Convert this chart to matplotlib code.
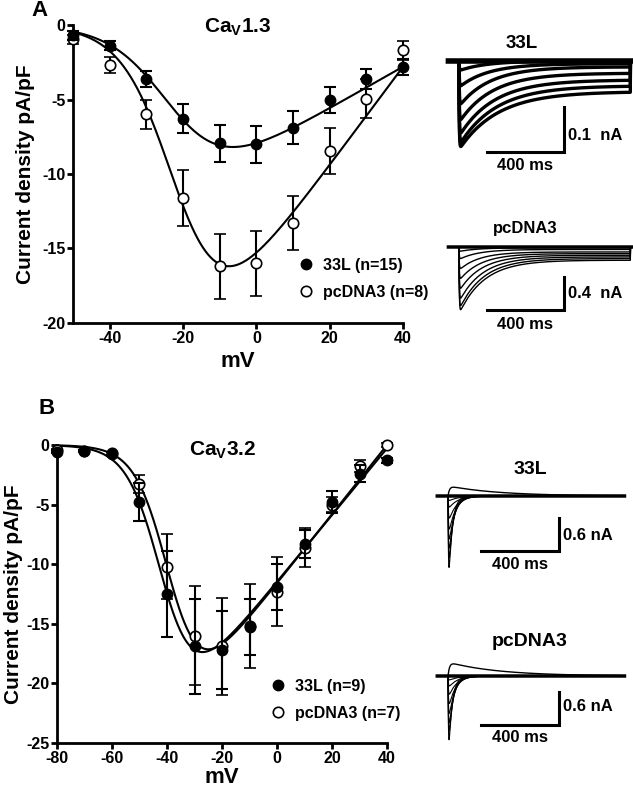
import numpy as np
import matplotlib
matplotlib.use('Agg')
import matplotlib.pyplot as plt

plt.rcParams['font.family'] = ['Liberation Sans', 'DejaVu Sans']
plt.rcParams['font.weight'] = 'bold'
plt.rcParams['axes.labelweight'] = 'bold'
plt.rcParams['axes.unicode_minus'] = False
plt.rcParams['mathtext.fontset'] = 'custom'
plt.rcParams['mathtext.rm'] = 'Liberation Sans:bold'
plt.rcParams['mathtext.it'] = 'Liberation Sans:bold'
plt.rcParams['mathtext.bf'] = 'Liberation Sans:bold'

W, H = 633, 790

# ---------------- Panel A : CaV1.3 I-V ----------------
a_voltage = [-50, -40, -30, -20, -10, 0, 10, 20, 30, 40]
a_33l_mean = [-0.7, -1.4, -3.6, -6.3, -7.95, -8.0, -6.9, -5.05, -3.6, -2.8]
a_33l_sem = [0.3, 0.3, 0.53, 0.97, 1.25, 1.25, 1.1, 0.87, 0.67, 0.53]
a_pc_mean = [-0.95, -2.7, -6.0, -11.6, -16.2, -16.0, -13.3, -8.45, -4.95, -1.7]
a_pc_sem = [0.3, 0.55, 1.0, 1.9, 2.2, 2.2, 1.8, 1.55, 1.3, 0.62]
a_labels = ['33L (n=15)', 'pcDNA3 (n=8)']
# Boltzmann-Ohm fit parameters [33L, pcDNA3]
a_fit_gmax = [0.14, 0.33]
a_fit_vhalf = [-22.2, -21.0]
a_fit_slope = [7.9, 6.9]
a_fit_erev = [60.0, 48.5]
a_xticks = [-40, -20, 0, 20, 40]
a_yticks = [0, -5, -10, -15, -20]

# ---------------- Panel B : CaV3.2 I-V ----------------
b_voltage = [-80, -70, -60, -50, -40, -30, -20, -10, 0, 10, 20, 30, 40]
b_33l_mean = [-0.55, -0.5, -0.75, -4.8, -12.5, -16.9, -17.2, -15.3, -11.9, -8.3, -4.8, -2.4, -1.3]
b_33l_sem = [0.1, 0.1, 0.15, 1.6, 3.6, 4.0, 3.3, 2.35, 1.95, 1.2, 0.9, 0.7, 0.2]
b_pc_mean = [-0.4, -0.5, -0.7, -3.3, -10.2, -16.0, -16.9, -15.2, -12.3, -8.6, -5.0, -1.8, 0.0]
b_pc_sem = [0.1, 0.1, 0.15, 0.75, 2.7, 4.15, 4.1, 3.5, 2.9, 1.6, 0.6, 0.5, 0.2]
b_labels = ['33L (n=9)', 'pcDNA3 (n=7)']
b_fit_gmax = [0.28, 0.29]
b_fit_vhalf = [-41.2, -38.6]
b_fit_slope = [6.06, 5.9]
b_fit_erev = [41.0, 40.0]
b_xticks = [-80, -60, -40, -20, 0, 20, 40]
b_yticks = [0, -5, -10, -15, -20, -25]

# ---------------- Current traces (nA, ms) ----------------
pulse_ms = 890
a33_peak = [0.19, 0.18, 0.16, 0.13, 0.095, 0.055, 0.02]
a33_end = [0.068, 0.055, 0.042, 0.027, 0.013, 0.006, 0.0]
a33_tau = [200, 190, 180, 170, 160, 150, 140]
apc_peak = [0.76, 0.71, 0.62, 0.50, 0.38, 0.26, 0.14, 0.05]
apc_end = [0.16, 0.14, 0.12, 0.10, 0.08, 0.06, 0.03, 0.01]
apc_tau = [130, 125, 120, 115, 110, 105, 100, 95]
b33_peak = [1.30, 1.12, 0.95, 0.78, 0.60, 0.40, 0.20, 0.08]
b33_tau = [18, 22, 26, 30, 35, 40, 45, 50]
b33_out = 0.16
bpc_peak = [1.16, 1.00, 0.85, 0.68, 0.50, 0.33, 0.18, 0.07]
bpc_tau = [18, 22, 26, 30, 35, 40, 45, 50]
bpc_out = 0.22


def boltz(v, g, vh, k, erev):
    return g * (v - erev) / (1.0 + np.exp((vh - v) / k))


def px(x, y):
    return x / W, 1 - y / H


fig = plt.figure(figsize=(W / 100, H / 100), dpi=100)


def iv_axes(rect_px, volt, m1, s1, m2, s2, fits, xlim, ylim, xticks, yticks,
            title, title_xy, labels, leg_xy, ylab_x, xlab_y):
    l, t, r, b = rect_px
    ax = fig.add_axes([l / W, 1 - b / H, (r - l) / W, (b - t) / H])
    ax.set_xlim(*xlim)
    ax.set_ylim(*ylim)
    vv = np.linspace(xlim[0], xlim[1], 400)
    for g, vh, k, er in zip(*fits):
        ax.plot(vv, boltz(vv, g, vh, k, er), color='black', lw=1.5, zorder=2,
                clip_on=False)
    e2 = ax.errorbar(volt, m2, yerr=s2, fmt='o', ms=7.5, mfc='white', mec='black',
                     mew=1.2, ecolor='black', elinewidth=1.5, capsize=4.5,
                     capthick=1.5, zorder=3, clip_on=False)
    e1 = ax.errorbar(volt, m1, yerr=s1, fmt='o', ms=7.5, mfc='black', mec='black',
                     ecolor='black', elinewidth=1.5, capsize=4.5, capthick=1.5,
                     zorder=4, clip_on=False)
    for a in (e1, e2):
        for c in a[1] + a[2]:
            c.set_clip_on(False)
    for s in ('top', 'right'):
        ax.spines[s].set_visible(False)
    for s in ('left', 'bottom'):
        ax.spines[s].set_linewidth(2)
    ax.set_xticks(xticks)
    ax.set_yticks(yticks)
    ax.tick_params(width=2, length=4, labelsize=11.5, pad=1.5)
    for lab in ax.get_xticklabels() + ax.get_yticklabels():
        lab.set_fontweight('bold')
    ax.set_ylabel('Current density pA/pF', fontsize=15)
    ax.yaxis.set_label_coords(ylab_x, 0.5)
    ax.set_xlabel('mV', fontsize=16)
    ax.xaxis.set_label_coords(0.5, xlab_y)
    fig.text(*px(*title_xy), title, fontsize=15, ha='center', va='center')
    leg = ax.legend([e1[0], e2[0]], labels, loc='upper left',
                    bbox_to_anchor=px(*leg_xy), bbox_transform=fig.transFigure,
                    frameon=False, fontsize=11.5, handlelength=1.0,
                    handletextpad=0.55, labelspacing=0.75, borderpad=0,
                    borderaxespad=0, numpoints=1)
    for tx in leg.get_texts():
        tx.set_fontweight('bold')
    return ax


iv_axes((73, 25, 403, 323), a_voltage, a_33l_mean, a_33l_sem, a_pc_mean, a_pc_sem,
        (a_fit_gmax, a_fit_vhalf, a_fit_slope, a_fit_erev), (-50, 40), (-20, 0),
        a_xticks, a_yticks, r'Ca$_\mathregular{V}$1.3', (238, 27), a_labels,
        (298, 258), -0.115, -0.095)

iv_axes((57, 445, 387, 743), b_voltage, b_33l_mean, b_33l_sem, b_pc_mean, b_pc_sem,
        (b_fit_gmax, b_fit_vhalf, b_fit_slope, b_fit_erev), (-80, 40), (-25, 0),
        b_xticks, b_yticks, r'Ca$_\mathregular{V}$3.2', (223, 450), b_labels,
        (270, 679), -0.103, -0.082)

fig.text(*px(40, 11), 'A', fontsize=16, ha='center', va='center')
fig.text(*px(47, 408), 'B', fontsize=16, ha='center', va='center')


def trace_axes(box, t0_px, base_px, ms_per_px, na_per_px):
    l, t, r, b = box
    ax = fig.add_axes([l / W, 1 - b / H, (r - l) / W, (b - t) / H])
    ax.set_xlim((l - t0_px) * ms_per_px, (r - t0_px) * ms_per_px)
    ax.set_ylim(-(b - base_px) * na_per_px, (base_px - t) * na_per_px)
    ax.axis('off')
    return ax


def scale_bar(ax, x_end, y_top, na, ms, na_label, label_y, ms_y):
    ax.plot([x_end - ms, x_end, x_end], [y_top - na, y_top - na, y_top],
            color='black', lw=2.2, solid_joinstyle='miter', clip_on=False)
    ax.text(x_end + 20, label_y, na_label, fontsize=12, ha='left', va='center')
    ax.text(x_end - ms / 2, ms_y, '400 ms', fontsize=12, ha='center', va='center')


t = np.linspace(-55, 905, 4000)
on = (t >= 0) & (t <= pulse_ms)
tt = np.clip(t, 0, None)


def decay(tau, rise):
    s = np.exp(-tt / tau) * (1 - np.exp(-tt / rise))
    return s / s.max()


# A 33L
ax = trace_axes((440, 30, 633, 175), 459, 61, 400 / 77, 0.1 / 45)
ax.plot(t, np.zeros_like(t), color='black', lw=4)
for pk, en, ta in zip(a33_peak, a33_end, a33_tau):
    i = -(en + (pk - en) * decay(ta, 2.0)) * on
    ax.plot(t, i, color='black', lw=2.4)
scale_bar(ax, 545, -0.102, 0.1, 400, '0.1  nA', -0.165, -0.232)
fig.text(*px(522, 43), '33L', fontsize=13.5, ha='center', va='center')

# A pcDNA3
ax = trace_axes((440, 225, 633, 335), 459, 247, 400 / 77, 0.4 / 33)
ax.plot(t, np.zeros_like(t), color='black', lw=2.5)
for pk, en, ta in zip(apc_peak, apc_end, apc_tau):
    i = -(en + (pk - en) * decay(ta, 2.0)) * on
    ax.plot(t, i, color='black', lw=1.0)
scale_bar(ax, 545, -0.364, 0.4, 400, '0.4  nA', -0.56, -0.945)
fig.text(*px(525, 229), 'pcDNA3', fontsize=12, ha='center', va='center')

# B 33L
ax = trace_axes((430, 470, 633, 580), 448, 496, 400 / 78, 0.6 / 33)
ax.plot(t, np.zeros_like(t), color='black', lw=2.5)
for pk, ta in zip(b33_peak, b33_tau):
    ax.plot(t, -pk * decay(ta, 2.5) * on, color='black', lw=0.8)
ax.plot(t, b33_out * decay(260, 8) * on, color='black', lw=1.0)
scale_bar(ax, 569, -0.40, 0.6, 400, '0.6 nA', -0.71, -1.24)
fig.text(*px(530, 469), '33L', fontsize=14, ha='center', va='center')

# B pcDNA3
ax = trace_axes((430, 645, 633, 755), 448, 676, 400 / 78, 0.6 / 33)
ax.plot(t, np.zeros_like(t), color='black', lw=2.5)
for pk, ta in zip(bpc_peak, bpc_tau):
    ax.plot(t, -pk * decay(ta, 2.5) * on, color='black', lw=0.8)
ax.plot(t, bpc_out * decay(260, 8) * on, color='black', lw=1.0)
scale_bar(ax, 569, -0.29, 0.6, 400, '0.6 nA', -0.56, -1.11)
fig.text(*px(530, 642), 'pcDNA3', fontsize=14, ha='center', va='center')

fig.savefig('out.png', dpi=100)
